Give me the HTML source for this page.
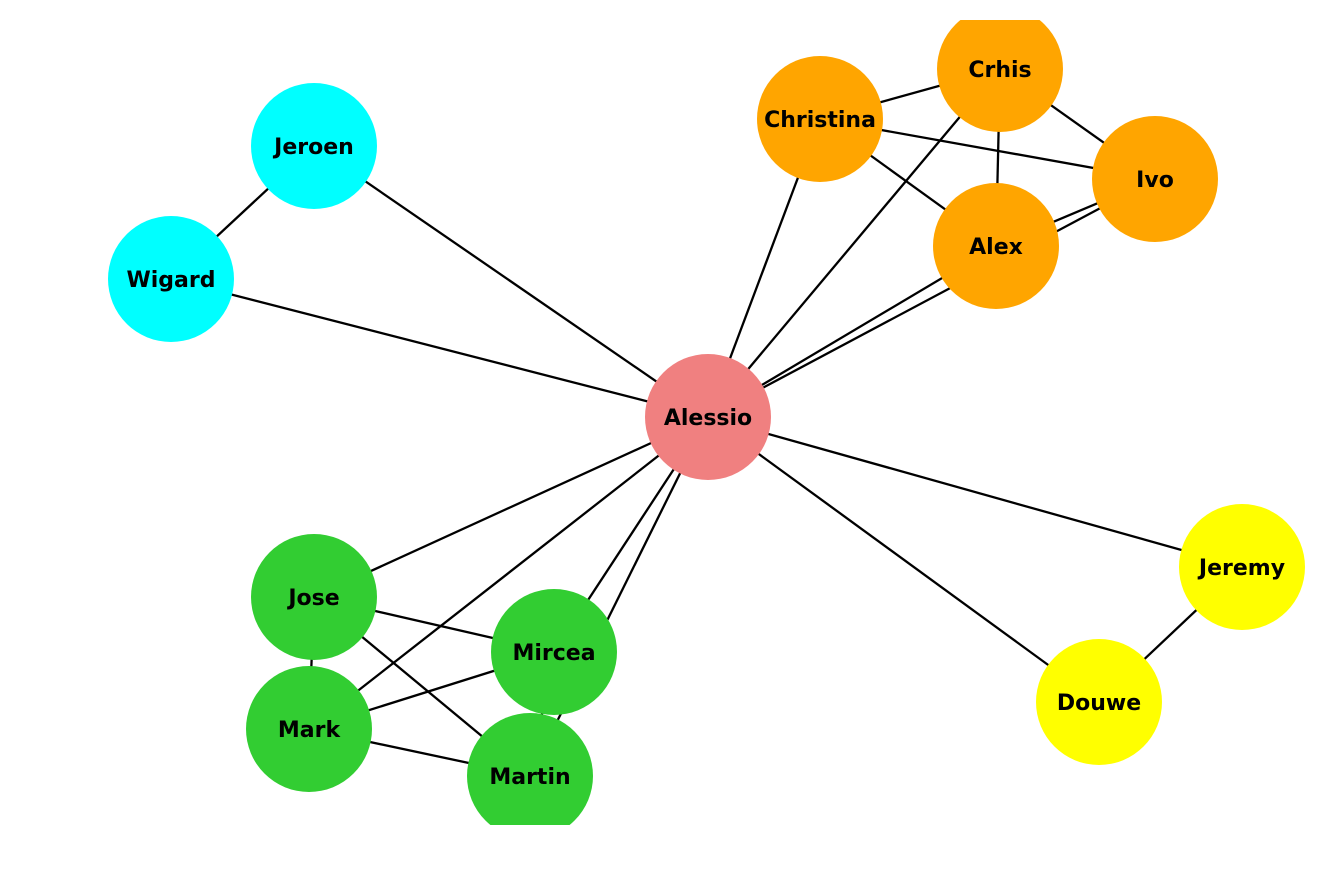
<!DOCTYPE html>
<html><head><meta charset="utf-8"><style>
html,body{margin:0;padding:0;background:#fff;width:1330px;height:890px;overflow:hidden}
svg{display:block}
text{font-family:"DejaVu Sans","Liberation Sans",sans-serif;font-weight:bold;font-size:22px}
</style></head><body>
<svg id="chart" width="1330" height="890" viewBox="0 0 1330 890">
<defs><clipPath id="clip"><rect x="0" y="20" width="1330" height="805"/></clipPath></defs>
<g id="edges" clip-path="url(#clip)"></g>
<g id="nodes" clip-path="url(#clip)"></g>
</svg>
<script>
const nodeNames=["Alessio","Jeroen","Wigard","Christina","Crhis","Ivo","Alex","Jeremy","Douwe","Jose","Mircea","Mark","Martin"];
const nodeX=[708,314,171,820,1000,1155,996,1242,1099,314,554,309,530];
const nodeY=[417,146,279,119,69,179,246,567,702,597,652,729,776];
const nodeGroup=["center","cyan","cyan","orange","orange","orange","orange","yellow","yellow","green","green","green","green"];
const edgeList=[["Jeroen","Wigard"],["Jeroen","Alessio"],["Wigard","Alessio"],["Alessio","Christina"],["Alessio","Crhis"],["Alessio","Alex"],["Alessio","Ivo"],["Christina","Crhis"],["Christina","Ivo"],["Christina","Alex"],["Crhis","Ivo"],["Crhis","Alex"],["Alex","Ivo"],["Alessio","Jeremy"],["Alessio","Douwe"],["Jeremy","Douwe"],["Alessio","Jose"],["Alessio","Mark"],["Alessio","Mircea"],["Alessio","Martin"],["Jose","Mircea"],["Jose","Mark"],["Jose","Martin"],["Mark","Mircea"],["Mark","Martin"],["Mircea","Martin"]];
const colors={center:"#F08080",cyan:"#00FFFF",orange:"#FFA500",yellow:"#FFFF00",green:"#32CD32"};
const NS="http://www.w3.org/2000/svg";
const eg=document.getElementById("edges"),ng=document.getElementById("nodes");
function idx(n){return nodeNames.indexOf(n);}
edgeList.forEach(e=>{
  const a=idx(e[0]),b=idx(e[1]);
  const l=document.createElementNS(NS,"line");
  l.setAttribute("x1",nodeX[a]);l.setAttribute("y1",nodeY[a]);
  l.setAttribute("x2",nodeX[b]);l.setAttribute("y2",nodeY[b]);
  l.setAttribute("stroke","#000");l.setAttribute("stroke-width","2.3");
  
  
  eg.appendChild(l);
});
nodeNames.forEach((n,i)=>{
  const g=document.createElementNS(NS,"g");
  
  
  const c=document.createElementNS(NS,"circle");
  c.setAttribute("cx",nodeX[i]);c.setAttribute("cy",nodeY[i]);c.setAttribute("r",63);
  c.setAttribute("fill",colors[nodeGroup[i]]);
  
  
  const t=document.createElementNS(NS,"text");
  t.setAttribute("x",nodeX[i]);t.setAttribute("y",nodeY[i]+8);
  t.setAttribute("text-anchor","middle");t.textContent=n;
  
  
  g.appendChild(c);g.appendChild(t);ng.appendChild(g);
});
</script>
</body></html>
